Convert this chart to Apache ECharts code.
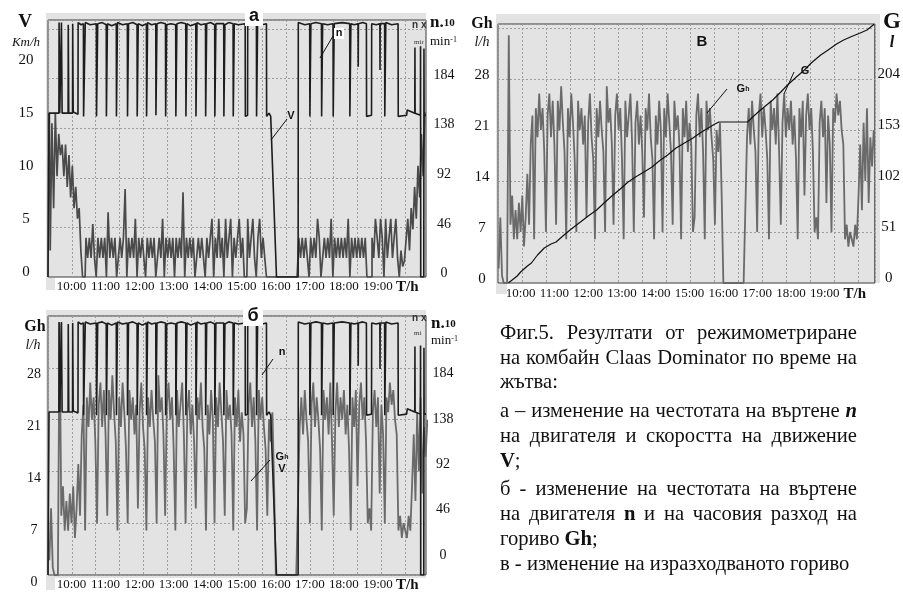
<!DOCTYPE html>
<html><head><meta charset="utf-8">
<script src="https://cdn.jsdelivr.net/npm/echarts@6/dist/echarts.min.js"></script>
<style>html,body{margin:0;padding:0;background:#fff}#c{width:903px;height:593px}</style>
</head><body><div id="c"></div>
<script>
// ---------------- DATA ----------------
const hourTicks = [10, 11, 12, 13, 14, 15, 16, 17, 18, 19];
const unitLabelPosAB = 19.86;   // where "T/h" sits on panels а, б
const unitLabelPosV = 19.89;    // where "T/h" sits on panel в
const vTickLabels = [0, 5, 10, 15, 20];
const nTickLabels = [0, 46, 92, 138, 184];
const ghTickLabels = [0, 7, 14, 21, 28];
const gTickLabels = [0, 51, 102, 153, 204];

// engine speed n (x10 min^-1) : [hour, value]
const engineSpeed = [
[9.31,0],[9.335,0],[9.34,152],[9.63,152],[9.635,236],[9.65,236],[9.655,152],[9.70,152],[9.705,236],[9.72,236],[9.725,152],[9.90,152],[9.905,234],[9.915,234],[9.92,152],[10.03,152],[10.035,235],[10.045,235],[10.05,153],[10.19,151],[10.195,236],[10.28,234],
[10.35,235],[10.355,149],[10.40,149],[10.405,236],[10.55,234],
[10.73,235],[10.735,149],[10.765,150],[10.77,235],[10.90,236],
[11.02,234],[11.025,149],[11.05,149],[11.055,235],[11.18,233],
[11.315,235],[11.32,149],[11.345,149],[11.35,236],[11.50,234],
[11.64,235],[11.645,149],[11.67,150],[11.675,235],[11.80,236],
[11.925,234],[11.93,149],[11.955,149],[11.96,235],[12.08,233],
[12.20,235],[12.205,149],[12.23,149],[12.235,236],[12.35,234],
[12.475,235],[12.48,150],[12.505,149],[12.51,235],[12.62,236],
[12.76,235],[12.765,149],[12.79,149],[12.795,234],[12.92,235],
[13.06,234],[13.065,149],[13.09,149],[13.095,235],[13.22,236],
[13.355,235],[13.36,149],[13.385,150],[13.39,235],[13.50,233],
[13.65,235],[13.655,149],[13.68,149],[13.685,236],[13.80,234],
[13.935,235],[13.94,149],[13.965,149],[13.97,235],[14.08,236],
[14.205,234],[14.21,149],[14.235,150],[14.24,235],[14.35,235],
[14.47,235],[14.475,149],[14.50,149],[14.505,234],[14.62,236],
[14.745,235],[14.75,149],[14.775,149],[14.78,235],[14.90,234],
[15.10,235],[15.105,149],[15.17,150],[15.175,235],[15.30,236],
[15.43,235],[15.435,149],[15.46,149],[15.465,235],[15.60,234],
[15.725,235],[15.73,149],[15.80,152],[15.85,149],[16.02,0],
[16.655,0],[16.66,236],[16.85,234],
[16.995,235],[17.0,149],[17.025,149],[17.03,235],[17.18,236],
[17.34,235],[17.345,149],[17.37,149],[17.375,235],[17.52,234],
[17.68,235],[17.685,149],[17.71,150],[17.715,235],[17.95,236],
[18.17,235],[18.175,149],[18.20,149],[18.205,235],[18.30,234],
[18.415,235],[18.42,195],[18.425,235],[18.55,236],
[18.66,235],[18.665,149],[18.81,150],[18.815,235],[18.95,234],
[19.055,235],[19.06,192],[19.065,235],
[19.195,235],[19.20,149],[19.225,149],[19.23,236],[19.40,234],
[19.59,235],[19.595,149],[19.84,150],[19.86,155],
[20.08,152],[20.085,213],[20.09,152],[20.245,150],[20.25,214],[20.255,0],[20.345,0],[20.35,212],[20.355,150],[20.41,150]
];

// regularly sampled signals: first sample hour and step (hours)
const sampleStart = 9.35;
const sampleStep = 0.05;

// travel speed V, km/h
const speedV = [
15.5, 2.5, 14.5, 6.5, 15.5, 9.5, 13.5, 11.5, 12.5, 9.5,
12.5, 8.5, 11.5, 7.5, 10.5, 6.5, 8.5, 5.5, 6.5, 2.5,
0, 0, 3.7, 1.8, 3.7, 1.8, 5, 1.8, 0, 3.7,
1.8, 3.7, 1.8, 3.7, 0, 6.1, 1.8, 3.7, 1.8, 3.7,
0, 1.8, 3.7, 1.8, 3.7, 8.3, 0, 3.7, 1.8, 3.7,
1.8, 5.5, 0, 3.7, 1.8, 3.7, 1.8, 0, 3.7, 1.8,
3.7, 1.8, 3.7, 0, 1.8, 3.7, 1.8, 5.5, 0, 3.7,
1.8, 3.7, 1.8, 3.7, 0, 3.7, 1.8, 3.7, 1.8, 8,
0, 3.7, 1.8, 3.7, 1.8, 3.7, 0, 1.8, 3.7, 1.8,
3.7, 1.8, 0, 3.7, 1.8, 3.7, 5.5, 0, 3.7, 1.8,
5.5, 1.8, 3.7, 0, 5.5, 1.8, 3.7, 5.5, 0, 3.7,
1.8, 3.7, 5.5, 1.8, 3.7, 0, 0, 5.5, 1.8, 3.7,
5.5, 1.8, 0, 3.7, 5.5, 1.8, 3.7, 1.8, 0, 0,
0, 0, 0, 0, 0, 0, 0, 0, 0, 0,
0, 0, 0, 0, 0, 0, 0, 3.7, 1.8, 3.7,
1.8, 3.7, 1.8, 0, 3.7, 1.8, 3.7, 1.8, 5.5, 3.7,
0, 1.8, 3.7, 1.8, 3.7, 1.8, 5.5, 0, 3.7, 1.8,
3.7, 1.8, 3.7, 1.8, 3.7, 1.8, 5.5, 0, 3.7, 1.8,
3.7, 1.8, 3.7, 1.8, 3.7, 1.8, 3.7, 0, 0, 0,
3.7, 1.8, 5.5, 3.7, 1.8, 5.5, 3.7, 0, 5.5, 1.8,
3.7, 5.5, 1.8, 3.7, 5.5, 1.8, 0, 2.5, 1, 1.5,
3.5, 5.5, 2.5, 6.5, 4.5, 8.5, 5.5, 10.5, 7.5, 13.5,
9.5, 15.5
];

// hourly fuel consumption Gh, l/h
const fuelRateGh = [
2, 9, 1, 0, 0, 0, 34, 8, 12, 6,
10, 6, 11, 7, 12, 5, 9, 15, 8, 19,
23, 6, 24, 20, 26, 21, 24, 18, 7, 23,
26, 20, 25, 19, 8, 25, 21, 27, 22, 18,
6, 24, 20, 26, 22, 17, 7, 25, 21, 24,
19, 23, 9, 22, 26, 20, 17, 6, 24, 20,
25, 21, 18, 7, 27, 22, 24, 19, 8, 23,
26, 21, 24, 17, 6, 25, 20, 23, 26, 19,
7, 22, 25, 19, 23, 18, 9, 24, 21, 26,
20, 17, 6, 23, 19, 25, 21, 7, 24, 20,
26, 22, 18, 8, 25, 21, 23, 19, 6, 24,
20, 25, 18, 22, 19, 7, 9, 23, 26, 20,
24, 18, 6, 25, 21, 24, 20, 17, 8, 21,
18, 22, 12, 0, 0, 0, 0, 0, 0, 0,
0, 0, 0, 0, 0, 0, 0, 20, 24, 19,
25, 21, 18, 7, 23, 26, 20, 24, 21, 17,
6, 25, 21, 24, 19, 26, 18, 8, 22, 26,
20, 24, 21, 25, 19, 23, 17, 6, 24, 20,
25, 12, 23, 26, 21, 24, 18, 7, 9, 6,
22, 25, 20, 24, 11, 23, 19, 7, 24, 22,
26, 23, 25, 21, 19, 6, 8, 5, 7, 6,
5, 8, 6, 12, 19, 10, 22, 14, 24, 11,
20, 16, 21
];

// cumulative fuel G, l : [hour, value]
const fuelTotalG = [
[9.634,0],[9.75,3],[9.90,7],[10.0,11],[10.1,14],[10.2,17],[10.32,20],[10.5,28],[10.7,35],[10.9,39],[11.05,41],
[11.25,47],[11.5,54],[11.77,61],[12.0,67],[12.25,73],[12.47,80],[12.7,87],[12.95,94],[13.18,101],[13.4,106],
[13.65,111],[13.89,116],[14.1,122],[14.35,128],[14.6,135],[14.85,140],[15.1,145],[15.31,150],[15.55,155],
[15.75,159],[15.87,161],[16.72,161],[16.9,167],[17.1,173],[17.46,183],[17.7,191],[17.9,198],[18.16,206],
[18.4,213],[18.6,220],[18.88,228],[19.1,233],[19.35,239],[19.56,243],[19.76,246],[20.05,250],[20.25,253],[20.47,259]
];

// caption
const captionLines = [
  'Фиг.5. Резултати от режимометриране',
  'на комбайн Claas Dominator по време на',
  'жътва:',
  'а – изменение на честотата на въртене [bi:n]',
  'на двигателя и скоростта на движение',
  '[b:V];',
  'б - изменение на честотата на въртене',
  'на двигателя [b:n] и на часовия разход на',
  'гориво [b:Gh];',
  'в - изменение на изразходваното гориво'
];
const captionJustified = [true, true, false, true, true, false, true, true, false, false];

// ---------------- CHART ----------------
const SERIF = '"Liberation Serif","Times New Roman",serif';
const SANS = '"Liberation Sans",Arial,sans-serif';
const BG = '#e3e3e3';
const GRIDC = '#9c9c9c';

const sampled = arr => arr.map((v, i) => [+(sampleStart + i * sampleStep).toFixed(3), v]);

function timeAxis(gridIndex, min, max, unitPos, margin) {
  return {
    type: 'value', gridIndex, min, max, position: 'bottom',
    axisLine: { show: false }, axisTick: { show: false }, splitLine: { show: false },
    axisLabel: {
      customValues: hourTicks.concat([unitPos]), margin,
      fontFamily: SERIF, fontSize: 13, color: '#111',
      formatter: v => (Math.abs(v - unitPos) < 1e-6 ? '{u|T/h}' : (Math.round(v) + ':00')),
      rich: { u: { fontFamily: SERIF, fontSize: 15, fontWeight: 'bold', color: '#111' } }
    }
  };
}
function vGrid(gridIndex, max) {
  return {
    type: 'value', gridIndex, min: 0, max, interval: 1, position: 'top',
    axisLine: { show: false }, axisTick: { show: false }, axisLabel: { show: false },
    splitLine: { show: true, lineStyle: { color: GRIDC, type: [2, 2], width: 1 } }
  };
}
function hGrid(gridIndex, max) {
  return {
    type: 'value', gridIndex, min: 0, max, interval: 1, position: 'left',
    axisLine: { show: false }, axisTick: { show: false }, axisLabel: { show: false },
    splitLine: { show: true, lineStyle: { color: GRIDC, type: [2, 2], width: 1 } }
  };
}
// vAlign/lineHeight are used to nudge labels the way the original places them
function labelAxis(gridIndex, position, min, max, values, margin, vAlign, lineHeight, fontSize) {
  return {
    type: 'value', gridIndex, position, min, max,
    axisLine: { show: false }, axisTick: { show: false }, splitLine: { show: false },
    axisLabel: {
      customValues: values, margin, align: 'center', verticalAlign: vAlign, lineHeight,
      fontFamily: SERIF, fontSize: fontSize || 14, color: '#111'
    }
  };
}
function hiddenAxis(gridIndex, position, min, max) {
  return { type: 'value', gridIndex, position, min, max, show: false };
}

const gridStyle = { show: true, backgroundColor: BG, borderColor: '#3c3c3c', borderWidth: 1 };

const option = {
  animation: false,
  backgroundColor: '#fff',
  grid: [
    Object.assign({ left: 48, top: 20, width: 378, height: 257 }, gridStyle),
    Object.assign({ left: 48, top: 316, width: 378, height: 262 }, gridStyle),
    Object.assign({ left: 498, top: 24, width: 380, height: 259 }, gridStyle)
  ],
  xAxis: [
    timeAxis(0, 9.31, 20.41, unitLabelPosAB, 3),
    vGrid(0, 378 / 23.8),
    timeAxis(1, 9.31, 20.41, unitLabelPosAB, 3),
    vGrid(1, 378 / 23.8),
    timeAxis(2, 9.331, 20.48, unitLabelPosV, 4),
    vGrid(2, 380 / 24.2)
  ],
  yAxis: [
    labelAxis(0, 'left', -0.47, 23.77, vTickLabels, 22, 'middle', 16, 15),   // 0: V labels
    labelAxis(0, 'right', 0, 238.4, nTickLabels, 18, 'bottom', 7, 14),       // 1: n (а)
    hGrid(0, 257 / 49.6),                                                    // 2
    labelAxis(1, 'left', 0, 35, ghTickLabels, 14, 'top', 14, 14),            // 3: Gh (б)
    hiddenAxis(1, 'right', 0, 241.5),                                        // 4: n data (б)
    labelAxis(1, 'right', -23, 239, nTickLabels, 17, 'top', 6, 14),          // 5: n labels (б)
    hGrid(1, 5),                                                             // 6
    labelAxis(2, 'left', 0, 35.55, ghTickLabels, 16, 'bottom', 8, 15),       // 7: Gh (в)
    labelAxis(2, 'right', 0, 259, gTickLabels, 14, 'bottom', 10, 15),        // 8: G (в)
    hGrid(2, 259 / 51),                                                      // 9
    hiddenAxis(0, 'left', 0, 24.25)                                          // 10: V data (а)
  ],
  series: [
    { name: 'V', type: 'line', xAxisIndex: 0, yAxisIndex: 10, data: sampled(speedV), step: 'middle',
      showSymbol: false, symbol: 'none', lineStyle: { color: '#4a4a4a', width: 1.7 }, z: 2 },
    { name: 'n', type: 'line', xAxisIndex: 0, yAxisIndex: 1, data: engineSpeed,
      showSymbol: false, symbol: 'none', lineStyle: { color: '#1d1d1d', width: 1.6 }, z: 3 },
    { name: 'Gh', type: 'line', xAxisIndex: 2, yAxisIndex: 3, data: sampled(fuelRateGh),
      showSymbol: false, symbol: 'none', lineStyle: { color: '#6a6a6a', width: 1.8 }, z: 2 },
    { name: 'n', type: 'line', xAxisIndex: 2, yAxisIndex: 4, data: engineSpeed,
      showSymbol: false, symbol: 'none', lineStyle: { color: '#1d1d1d', width: 1.6 }, z: 3 },
    { name: 'Gh', type: 'line', xAxisIndex: 4, yAxisIndex: 7, data: sampled(fuelRateGh),
      showSymbol: false, symbol: 'none', lineStyle: { color: '#6a6a6a', width: 1.8 }, z: 2 },
    { name: 'G', type: 'line', xAxisIndex: 4, yAxisIndex: 8, data: fuelTotalG,
      showSymbol: false, symbol: 'none', lineStyle: { color: '#111', width: 1.2 }, z: 3 }
  ],
  graphic: []
};

// ------------- decorations (frames, titles, labels) -------------
const G = option.graphic;
function rect(x, y, w, h, fill, z) { G.push({ type: 'rect', z: z, shape: { x, y, width: w, height: h }, style: { fill } }); }
function txt(x, y, text, o) {
  o = o || {};
  G.push({ type: 'text', x, y, z: 100, style: Object.assign({
    text, fill: '#111', fontFamily: SERIF, fontSize: 14, align: 'center', verticalAlign: 'middle'
  }, o) });
}
function line(x1, y1, x2, y2) {
  G.push({ type: 'line', z: 100, shape: { x1, y1, x2, y2 }, style: { stroke: '#111', lineWidth: 1 } });
}
// outer light frames
rect(46, 13, 380, 264, BG, -10); rect(46, 277, 9, 13, BG, -10);
rect(46, 310, 380, 268, BG, -10); rect(46, 578, 9, 12, BG, -10);
rect(496, 14, 384, 269, BG, -10); rect(496, 283, 11, 11, BG, -10);
// panel titles
rect(245, 8, 18, 18, '#fff', 50); txt(254, 16, 'а', { fontFamily: SANS, fontWeight: 'bold', fontSize: 18 });
rect(243, 307, 20, 19, '#fff', 50); txt(253, 316, 'б', { fontFamily: SANS, fontWeight: 'bold', fontSize: 18 });
txt(702, 42, 'В', { fontFamily: SANS, fontWeight: 'bold', fontSize: 15 });
// axis titles panel а
txt(25, 22, 'V', { fontWeight: 'bold', fontSize: 19 });
txt(26, 43, 'Km/h', { fontStyle: 'italic', fontSize: 13 });
const nTitleRich = { a: { fontFamily: SERIF, fontWeight: 'bold', fontSize: 17 }, b: { fontFamily: SERIF, fontWeight: 'bold', fontSize: 11 } };
const minRich = { a: { fontFamily: SERIF, fontSize: 13 }, b: { fontFamily: SERIF, fontSize: 8, verticalAlign: 'top' } };
txt(430, 23, '{a|n.}{b|10}', { align: 'left', rich: nTitleRich });
txt(430, 42, '{a|min}{b|-1}', { align: 'left', rich: minRich });
txt(412, 25, 'n x', { align: 'left', fontFamily: SANS, fontSize: 10, fontWeight: 'bold', fill: '#333' });
txt(414, 42, 'mir', { align: 'left', fontFamily: SERIF, fontSize: 7, fill: '#333' });
// axis titles panel б
txt(35, 327, 'Gh', { fontWeight: 'bold', fontSize: 16 });
txt(33, 345, 'l/h', { fontStyle: 'italic', fontSize: 14 });
txt(431, 324, '{a|n.}{b|10}', { align: 'left', rich: nTitleRich });
txt(431, 341, '{a|min}{b|-1}', { align: 'left', rich: minRich });
txt(412, 318, 'n x', { align: 'left', fontFamily: SANS, fontSize: 10, fontWeight: 'bold', fill: '#333' });
txt(414, 333, 'mi', { align: 'left', fontFamily: SERIF, fontSize: 7, fill: '#333' });
// axis titles panel в
txt(482, 24, 'Gh', { fontWeight: 'bold', fontSize: 16 });
txt(482, 42, 'l/h', { fontStyle: 'italic', fontSize: 14 });
txt(892, 22, 'G', { fontWeight: 'bold', fontSize: 23 });
txt(892, 43, 'l', { fontWeight: 'bold', fontStyle: 'italic', fontSize: 16 });
// series annotations
const ghRich = { a: { fontFamily: SANS, fontWeight: 'bold', fontSize: 11 }, b: { fontFamily: SANS, fontWeight: 'bold', fontSize: 7 } };
rect(334, 28, 10, 11, '#fff', 50); txt(339, 33, 'n', { fontFamily: SANS, fontWeight: 'bold', fontSize: 11 });
line(333, 36, 320, 58);
txt(291, 116, 'V', { fontFamily: SANS, fontWeight: 'bold', fontSize: 11 });
line(287, 119, 271, 140);
txt(282, 352, 'n', { fontFamily: SANS, fontWeight: 'bold', fontSize: 11 });
line(273, 359, 262, 375);
txt(282, 457, '{a|G}{b|h}', { rich: ghRich });
txt(282, 469, 'V', { fontFamily: SANS, fontWeight: 'bold', fontSize: 11 });
line(270, 460, 251, 481);
txt(743, 89, '{a|G}{b|h}', { rich: ghRich });
line(727, 89, 707, 113);
txt(805, 71, 'G', { fontFamily: SANS, fontWeight: 'bold', fontSize: 11 });
line(794, 72, 784, 94);

// caption with justified lines
(function () {
  const ctx = document.createElement('canvas').getContext('2d');
  const fontOf = (fs, s) => (s.i ? 'italic ' : '') + (s.b ? 'bold ' : '') + fs + 'px ' + SERIF;
  const parseWord = w => {
    const segs = []; const re = /\[(bi|b):([^\]]+)\]|([^\[]+)/g; let m;
    while ((m = re.exec(w))) {
      if (m[3]) segs.push({ t: m[3] }); else segs.push({ t: m[2], b: true, i: m[1] === 'bi' });
    }
    return segs;
  };
  const fs = 20.6;
  const measure = segs => segs.reduce((a, s) => { ctx.font = fontOf(fs, s); return a + ctx.measureText(s.t).width; }, 0);
  const words = captionLines.map(l => l.split(' ').filter(Boolean).map(parseWord));
  const x0 = 500, x1 = 857;
  const ys = [334, 359, 383, 412, 437, 462, 490, 515, 540, 565];
  words.forEach((ws, li) => {
    const widths = ws.map(measure);
    const total = widths.reduce((a, b) => a + b, 0);
    ctx.font = fontOf(fs, {}); const sp = ctx.measureText(' ').width;
    const gap = (captionJustified[li] && ws.length > 1) ? Math.max(sp * 0.8, (x1 - x0 - total) / (ws.length - 1)) : sp;
    let x = x0;
    ws.forEach((w) => {
      w.forEach(s => {
        ctx.font = fontOf(fs, s);
        G.push({ type: 'text', x, y: ys[li], z: 100, style: {
          text: s.t, fill: '#111', fontFamily: SERIF, fontSize: fs,
          fontWeight: s.b ? 'bold' : 'normal', fontStyle: s.i ? 'italic' : 'normal',
          align: 'left', verticalAlign: 'middle' } });
        x += ctx.measureText(s.t).width;
      });
      x += gap;
    });
  });
})();

const chart = echarts.init(document.getElementById('c'), null, { renderer: 'canvas' });
chart.setOption(option);
</script>
</body></html>
